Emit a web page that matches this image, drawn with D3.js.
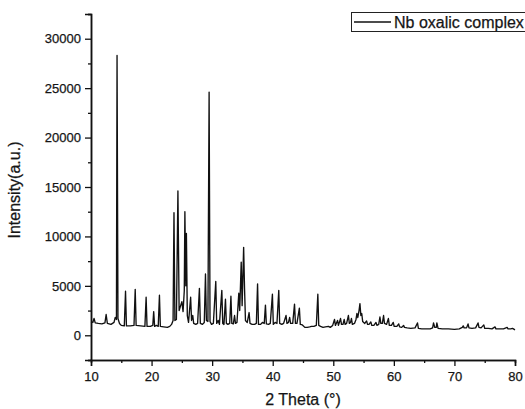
<!DOCTYPE html>
<html>
<head>
<meta charset="utf-8">
<script src="https://cdn.jsdelivr.net/npm/d3@7"></script>
<style>
  body { margin: 0; background: #fff; }
  svg { display: block; font-family: "Liberation Sans", Arial, sans-serif; }
</style>
</head>
<body>
<script>
// XRD pattern (2 theta in degrees, intensity in a.u.)
var twoTheta = [
  10.0, 10.3, 10.5, 10.7, 11.2, 11.8, 12.3, 12.5, 12.7, 13.3, 13.8, 14.0, 14.2, 14.3, 14.45, 14.7,
  15.0, 15.5, 15.7, 15.85, 16.5, 17.1, 17.3, 17.45, 18.2, 18.9, 19.1, 19.25, 19.8, 20.2, 20.35, 20.5,
  20.8, 21.1, 21.3, 21.45, 22.0, 22.6, 23.0, 23.3, 23.55, 23.7, 23.85, 24.1, 24.35, 24.55, 24.8, 25.0,
  25.2, 25.4, 25.5, 25.65, 25.75, 25.9, 26.1, 26.45, 26.6, 26.8, 26.95, 27.3, 27.6, 27.9, 28.05, 28.4,
  28.7, 28.9, 29.05, 29.3, 29.5, 29.65, 29.9, 30.2, 30.6, 30.75, 31.0, 31.2, 31.6, 31.75, 31.95, 32.2,
  32.35, 32.6, 32.9, 33.1, 33.25, 33.5, 33.7, 33.85, 34.1, 34.4, 34.55, 34.8, 34.95, 35.2, 35.35, 35.5,
  35.8, 36.1, 36.25, 36.6, 37.0, 37.3, 37.5, 37.65, 38.0, 38.3, 38.6, 38.8, 38.95, 39.3, 39.6, 39.95,
  40.1, 40.4, 40.7, 41.0, 41.15, 41.5, 41.8, 42.2, 42.35, 42.6, 42.8, 42.95, 43.3, 43.6, 43.75, 44.0,
  44.4, 44.55, 44.9, 45.3, 45.7, 46.1, 46.4, 46.8, 47.2, 47.45, 47.6, 47.9, 48.3, 48.7, 49.2, 49.5,
  49.9, 50.2, 50.35, 50.7, 50.85, 51.2, 51.35, 51.6, 51.8, 51.95, 52.2, 52.5, 52.65, 52.85, 53.0, 53.15,
  53.5, 53.75, 53.9, 54.05, 54.25, 54.4, 54.55, 54.7, 54.85, 55.2, 55.5, 55.65, 55.9, 56.2, 56.35, 56.7,
  57.05, 57.2, 57.5, 57.7, 57.85, 58.1, 58.3, 58.45, 58.8, 59.1, 59.25, 59.6, 59.9, 60.05, 60.5, 60.8,
  60.95, 61.3, 61.6, 61.75, 62.2, 62.8, 63.5, 63.9, 64.05, 64.6, 65.3, 66.0, 66.4, 66.55, 66.75, 67.0,
  67.1, 67.3, 68.0, 69.0, 70.0, 70.8, 71.3, 71.45, 71.6, 72.0, 72.25, 72.4, 72.9, 73.5, 73.9, 74.05,
  74.4, 74.85, 75.0, 75.6, 76.2, 76.7, 76.85, 77.5, 78.1, 78.7, 78.85, 79.3, 79.6, 80.0
];
var intensity = [
  1350, 1300, 1700, 1250, 1200, 1150, 1250, 2100, 1200, 1100, 1300, 1800, 1600, 28300, 1700, 1200,
  1000, 950, 4450, 950, 950, 1000, 4650, 1000, 950, 900, 3850, 900, 900, 1000, 2400, 900,
  1000, 900, 4050, 900, 850, 800, 900, 1100, 1500, 12400, 1500, 1600, 14600, 2500, 3000, 3400,
  2400, 4500, 12500, 5000, 10300, 2000, 1300, 3850, 1500, 2000, 1200, 1100, 1200, 4750, 1200, 1100,
  1300, 6200, 1500, 1400, 24600, 1400, 1100, 1200, 5450, 1200, 1500, 1100, 4550, 1200, 1100, 3650,
  1200, 1100, 1200, 3950, 1200, 1150, 2000, 1200, 1300, 4250, 2500, 7400, 3000, 8900, 4700, 1500,
  1300, 2300, 1200, 1100, 1100, 1200, 5200, 1100, 1100, 1300, 1200, 3050, 1150, 1100, 1200, 4150,
  1100, 1300, 1200, 4550, 1200, 1100, 1200, 2000, 1200, 1300, 1800, 1200, 1200, 3150, 1200, 1200,
  2750, 1100, 1050, 800, 800, 850, 900, 900, 1000, 4150, 1000, 900, 800, 850, 900, 800,
  1000, 1600, 1000, 1500, 1000, 1700, 1100, 1100, 1600, 1100, 1200, 2000, 1200, 1300, 1700, 1100,
  1200, 1600, 2200, 1800, 2500, 3200, 2000, 2200, 1400, 1200, 1450, 1100, 1100, 1350, 1000, 1000,
  1300, 1000, 1100, 1850, 1200, 1200, 2000, 1200, 1100, 1700, 1000, 1000, 1300, 900, 900, 1150,
  850, 800, 1000, 800, 750, 700, 750, 1250, 700, 650, 650, 650, 750, 1250, 800, 800,
  1250, 700, 650, 650, 600, 650, 800, 950, 750, 750, 1150, 750, 700, 750, 1250, 800,
  750, 1050, 700, 700, 650, 850, 650, 650, 650, 800, 650, 650, 700, 550
];

var xMajor = [10, 20, 30, 40, 50, 60, 70, 80];
var xMinor = [15, 25, 35, 45, 55, 65, 75];
var yMajor = [0, 5000, 10000, 15000, 20000, 25000, 30000];
var yMinor = [-2500, 2500, 7500, 12500, 17500, 22500, 27500, 32500];
var seriesName = "Nb oxalic complex";

var W = 525, H = 409;

var svg = d3.select("body").append("svg")
    .attr("width", W)
    .attr("height", H);

var x = d3.scaleLinear().domain([10, 80]).range([91, 515]);
var y = d3.scaleLinear().domain([-2500, 32500]).range([360, 14]);

// pattern
var pts = twoTheta.map((t, i) => [t, intensity[i]]);
var line = d3.line()
    .x(d => x(d[0]))
    .y(d => y(d[1]));

svg.append("path")
    .datum(pts)
    .attr("d", line)
    .style("fill", "none")
    .style("stroke", "#111")
    .style("stroke-width", 1.35)
    .style("stroke-linejoin", "round");

// axes
var gx = svg.append("g").attr("transform", "translate(0,360)")
    .call(d3.axisBottom(x).tickValues(xMajor).tickSize(6).tickPadding(6).tickFormat(d3.format("d")));
var gxm = svg.append("g").attr("transform", "translate(0,360)")
    .call(d3.axisBottom(x).tickValues(xMinor).tickSize(3).tickFormat(""));
var gy = svg.append("g").attr("transform", "translate(91,0)")
    .call(d3.axisLeft(y).tickValues(yMajor).tickSize(6).tickPadding(4).tickFormat(d3.format("d")));
var gym = svg.append("g").attr("transform", "translate(91,0)")
    .call(d3.axisLeft(y).tickValues(yMinor).tickSize(3).tickFormat(""));

[gx, gxm, gy, gym].forEach(function(g) {
  g.select(".domain").attr("stroke", "#111").attr("stroke-width", 1.5);
  g.selectAll(".tick line").attr("stroke", "#111").attr("stroke-width", 1.3);
  g.selectAll("text")
    .attr("font-family", "'Liberation Sans', Arial, sans-serif")
    .attr("font-size", "13px")
    .attr("fill", "#151515")
    .attr("stroke", "#151515")
    .attr("stroke-width", 0.25);
});

// axis titles
svg.append("text")
    .attr("x", 303)
    .attr("y", 405)
    .attr("text-anchor", "middle")
    .attr("font-size", "16px")
    .attr("fill", "#151515")
    .attr("stroke", "#151515")
    .attr("stroke-width", 0.25)
    .text("2 Theta (°)");

svg.append("text")
    .attr("transform", "translate(20,190) rotate(-90)")
    .attr("text-anchor", "middle")
    .attr("font-size", "16px")
    .attr("fill", "#151515")
    .attr("stroke", "#151515")
    .attr("stroke-width", 0.25)
    .text("Intensity(a.u.)");

// legend
var lg = svg.append("g").attr("class", "legend");
lg.append("rect")
    .attr("x", 351.5)
    .attr("y", 12.5)
    .attr("width", 190)
    .attr("height", 19)
    .style("fill", "white")
    .style("stroke", "#222")
    .style("stroke-width", 1);
lg.append("line")
    .attr("x1", 354).attr("x2", 391)
    .attr("y1", 22).attr("y2", 22)
    .style("stroke", "#111")
    .style("stroke-width", 1.3);
lg.append("text")
    .attr("x", 394)
    .attr("y", 28)
    .attr("font-size", "16px")
    .attr("fill", "#151515")
    .attr("stroke", "#151515")
    .attr("stroke-width", 0.25)
    .text(seriesName);
</script>
</body>
</html>
